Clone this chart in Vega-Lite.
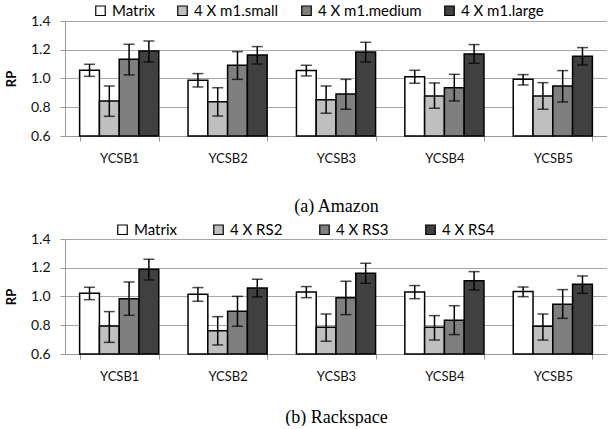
{
  "$schema": "https://vega.github.io/schema/vega-lite/v6.json",
  "padding": {"left": 5, "top": 3, "right": 0, "bottom": 0},
  "background": "white",
  "spacing": 7,
  "datasets": {
    "amazon": [
      {"bench": "YCSB1", "config": "Matrix", "value": 1.057, "lo": 1.015, "hi": 1.099},
      {"bench": "YCSB1", "config": "4 X m1.small", "value": 0.844, "lo": 0.737, "hi": 0.948},
      {"bench": "YCSB1", "config": "4 X m1.medium", "value": 1.134, "lo": 1.025, "hi": 1.238},
      {"bench": "YCSB1", "config": "4 X m1.large", "value": 1.192, "lo": 1.115, "hi": 1.261},
      {"bench": "YCSB2", "config": "Matrix", "value": 0.987, "lo": 0.941, "hi": 1.034},
      {"bench": "YCSB2", "config": "4 X m1.small", "value": 0.839, "lo": 0.739, "hi": 0.936},
      {"bench": "YCSB2", "config": "4 X m1.medium", "value": 1.092, "lo": 0.994, "hi": 1.187},
      {"bench": "YCSB2", "config": "4 X m1.large", "value": 1.164, "lo": 1.101, "hi": 1.222},
      {"bench": "YCSB3", "config": "Matrix", "value": 1.055, "lo": 1.018, "hi": 1.092},
      {"bench": "YCSB3", "config": "4 X m1.small", "value": 0.853, "lo": 0.758, "hi": 0.948},
      {"bench": "YCSB3", "config": "4 X m1.medium", "value": 0.892, "lo": 0.786, "hi": 0.994},
      {"bench": "YCSB3", "config": "4 X m1.large", "value": 1.185, "lo": 1.115, "hi": 1.252},
      {"bench": "YCSB4", "config": "Matrix", "value": 1.013, "lo": 0.967, "hi": 1.057},
      {"bench": "YCSB4", "config": "4 X m1.small", "value": 0.878, "lo": 0.793, "hi": 0.969},
      {"bench": "YCSB4", "config": "4 X m1.medium", "value": 0.936, "lo": 0.844, "hi": 1.029},
      {"bench": "YCSB4", "config": "4 X m1.large", "value": 1.171, "lo": 1.106, "hi": 1.236},
      {"bench": "YCSB5", "config": "Matrix", "value": 0.994, "lo": 0.955, "hi": 1.027},
      {"bench": "YCSB5", "config": "4 X m1.small", "value": 0.878, "lo": 0.786, "hi": 0.971},
      {"bench": "YCSB5", "config": "4 X m1.medium", "value": 0.948, "lo": 0.837, "hi": 1.055},
      {"bench": "YCSB5", "config": "4 X m1.large", "value": 1.155, "lo": 1.094, "hi": 1.215}
    ],
    "rackspace": [
      {"bench": "YCSB1", "config": "Matrix", "value": 1.022, "lo": 0.978, "hi": 1.064},
      {"bench": "YCSB1", "config": "4 X RS2", "value": 0.795, "lo": 0.681, "hi": 0.895},
      {"bench": "YCSB1", "config": "4 X RS3", "value": 0.985, "lo": 0.869, "hi": 1.101},
      {"bench": "YCSB1", "config": "4 X RS4", "value": 1.189, "lo": 1.115, "hi": 1.259},
      {"bench": "YCSB2", "config": "Matrix", "value": 1.015, "lo": 0.967, "hi": 1.062},
      {"bench": "YCSB2", "config": "4 X RS2", "value": 0.762, "lo": 0.663, "hi": 0.86},
      {"bench": "YCSB2", "config": "4 X RS3", "value": 0.897, "lo": 0.793, "hi": 1.001},
      {"bench": "YCSB2", "config": "4 X RS4", "value": 1.059, "lo": 0.997, "hi": 1.12},
      {"bench": "YCSB3", "config": "Matrix", "value": 1.032, "lo": 0.992, "hi": 1.069},
      {"bench": "YCSB3", "config": "4 X RS2", "value": 0.786, "lo": 0.688, "hi": 0.878},
      {"bench": "YCSB3", "config": "4 X RS3", "value": 0.992, "lo": 0.874, "hi": 1.106},
      {"bench": "YCSB3", "config": "4 X RS4", "value": 1.161, "lo": 1.092, "hi": 1.231},
      {"bench": "YCSB4", "config": "Matrix", "value": 1.032, "lo": 0.985, "hi": 1.076},
      {"bench": "YCSB4", "config": "4 X RS2", "value": 0.786, "lo": 0.697, "hi": 0.867},
      {"bench": "YCSB4", "config": "4 X RS3", "value": 0.834, "lo": 0.735, "hi": 0.936},
      {"bench": "YCSB4", "config": "4 X RS4", "value": 1.11, "lo": 1.045, "hi": 1.173},
      {"bench": "YCSB5", "config": "Matrix", "value": 1.034, "lo": 0.999, "hi": 1.066},
      {"bench": "YCSB5", "config": "4 X RS2", "value": 0.793, "lo": 0.697, "hi": 0.878},
      {"bench": "YCSB5", "config": "4 X RS3", "value": 0.946, "lo": 0.848, "hi": 1.048},
      {"bench": "YCSB5", "config": "4 X RS4", "value": 1.085, "lo": 1.022, "hi": 1.143}
    ]
  },
  "resolve": {"scale": {"color": "independent", "xOffset": "independent"}, "legend": {"color": "independent"}},
  "vconcat": [
    {
      "width": 542,
      "height": 115,
      "data": {"name": "amazon"},
      "encoding": {
        "x": {"field": "bench", "type": "nominal", "sort": null,
              "scale": {"paddingInner": 0.27, "paddingOuter": 0.135},
              "axis": {"title": "(a) Amazon", "titlePadding": 32}},
        "xOffset": {"field": "config", "type": "nominal",
                    "sort": ["Matrix", "4 X m1.small", "4 X m1.medium", "4 X m1.large"],
                    "scale": {"paddingInner": 0, "paddingOuter": 0}}
      },
      "layer": [
        {
          "mark": {"type": "bar", "stroke": "black", "strokeWidth": 1.5},
          "encoding": {
            "y": {"field": "value", "type": "quantitative",
                  "scale": {"domain": [0.6, 1.4], "zero": false, "nice": false},
                  "axis": {"title": "RP", "values": [0.6, 0.8, 1.0, 1.2, 1.4], "format": ".1f", "grid": true, "labelOverlap": false}},
            "y2": {"datum": 0.6},
            "color": {"field": "config", "type": "nominal",
                      "sort": ["Matrix", "4 X m1.small", "4 X m1.medium", "4 X m1.large"],
                      "scale": {"domain": ["Matrix", "4 X m1.small", "4 X m1.medium", "4 X m1.large"],
                                "range": ["#ffffff", "#bfbfbf", "#7f7f7f", "#404040"]},
                      "legend": {"orient": "none", "legendX": 28, "legendY": -18, "direction": "horizontal",
                                 "columnPadding": 20, "title": null}}
          }
        },
        {
          "mark": {"type": "rule", "color": "black", "strokeWidth": 1.5},
          "encoding": {"y": {"field": "lo", "type": "quantitative",
                             "axis": {"title": "RP", "values": [0.6, 0.8, 1.0, 1.2, 1.4], "format": ".1f", "grid": true, "labelOverlap": false}},
                       "y2": {"field": "hi"}}
        },
        {
          "mark": {"type": "tick", "color": "black", "thickness": 1.5, "size": 11},
          "encoding": {"y": {"field": "lo", "type": "quantitative",
                             "axis": {"title": "RP", "values": [0.6, 0.8, 1.0, 1.2, 1.4], "format": ".1f", "grid": true, "labelOverlap": false}}}
        },
        {
          "mark": {"type": "tick", "color": "black", "thickness": 1.5, "size": 11},
          "encoding": {"y": {"field": "hi", "type": "quantitative",
                             "axis": {"title": "RP", "values": [0.6, 0.8, 1.0, 1.2, 1.4], "format": ".1f", "grid": true, "labelOverlap": false}}}
        }
      ]
    },
    {
      "width": 542,
      "height": 115,
      "data": {"name": "rackspace"},
      "encoding": {
        "x": {"field": "bench", "type": "nominal", "sort": null,
              "scale": {"paddingInner": 0.27, "paddingOuter": 0.135},
              "axis": {"title": "(b) Rackspace", "titlePadding": 25}},
        "xOffset": {"field": "config", "type": "nominal",
                    "sort": ["Matrix", "4 X RS2", "4 X RS3", "4 X RS4"],
                    "scale": {"paddingInner": 0, "paddingOuter": 0}}
      },
      "layer": [
        {
          "mark": {"type": "bar", "stroke": "black", "strokeWidth": 1.5},
          "encoding": {
            "y": {"field": "value", "type": "quantitative",
                  "scale": {"domain": [0.6, 1.4], "zero": false, "nice": false},
                  "axis": {"title": "RP", "values": [0.6, 0.8, 1.0, 1.2, 1.4], "format": ".1f", "grid": true, "labelOverlap": false}},
            "y2": {"datum": 0.6},
            "color": {"field": "config", "type": "nominal",
                      "sort": ["Matrix", "4 X RS2", "4 X RS3", "4 X RS4"],
                      "scale": {"domain": ["Matrix", "4 X RS2", "4 X RS3", "4 X RS4"],
                                "range": ["#ffffff", "#bfbfbf", "#7f7f7f", "#404040"]},
                      "legend": {"orient": "none", "legendX": 50, "legendY": -17, "direction": "horizontal",
                                 "columnPadding": 34, "title": null}}
          }
        },
        {
          "mark": {"type": "rule", "color": "black", "strokeWidth": 1.5},
          "encoding": {"y": {"field": "lo", "type": "quantitative",
                             "axis": {"title": "RP", "values": [0.6, 0.8, 1.0, 1.2, 1.4], "format": ".1f", "grid": true, "labelOverlap": false}},
                       "y2": {"field": "hi"}}
        },
        {
          "mark": {"type": "tick", "color": "black", "thickness": 1.5, "size": 11},
          "encoding": {"y": {"field": "lo", "type": "quantitative",
                             "axis": {"title": "RP", "values": [0.6, 0.8, 1.0, 1.2, 1.4], "format": ".1f", "grid": true, "labelOverlap": false}}}
        },
        {
          "mark": {"type": "tick", "color": "black", "thickness": 1.5, "size": 11},
          "encoding": {"y": {"field": "hi", "type": "quantitative",
                             "axis": {"title": "RP", "values": [0.6, 0.8, 1.0, 1.2, 1.4], "format": ".1f", "grid": true, "labelOverlap": false}}}
        }
      ]
    }
  ],
  "config": {
    "view": {"stroke": null},
    "font": "Lato",
    "axisX": {
      "tickBand": "extent", "tickSize": 5, "tickColor": "#999999", "domainColor": "#999999",
      "labelAngle": 0, "labelFontSize": 13, "labelColor": "#111111", "labelFont": "Lato", "labelPadding": 11,
      "titleFont": "Liberation Serif", "titleFontSize": 18, "titleFontWeight": "normal", "titleColor": "black",
      "grid": false
    },
    "axisY": {
      "tickSize": 5, "tickColor": "#999999", "domainColor": "#999999", "gridColor": "#a6a6a6", "grid": true,
      "labelFontSize": 14, "labelColor": "#111111", "labelFont": "Lato", "labelPadding": 10,
      "titleFont": "Lato", "titleFontSize": 13, "titleFontWeight": "bold", "titleColor": "black", "titlePadding": 12
    },
    "legend": {
      "symbolType": "square", "symbolSize": 90, "symbolStrokeColor": "black", "symbolStrokeWidth": 1.2,
      "labelFontSize": 15, "labelFont": "Lato", "labelColor": "black", "symbolOpacity": 1
    }
  }
}
